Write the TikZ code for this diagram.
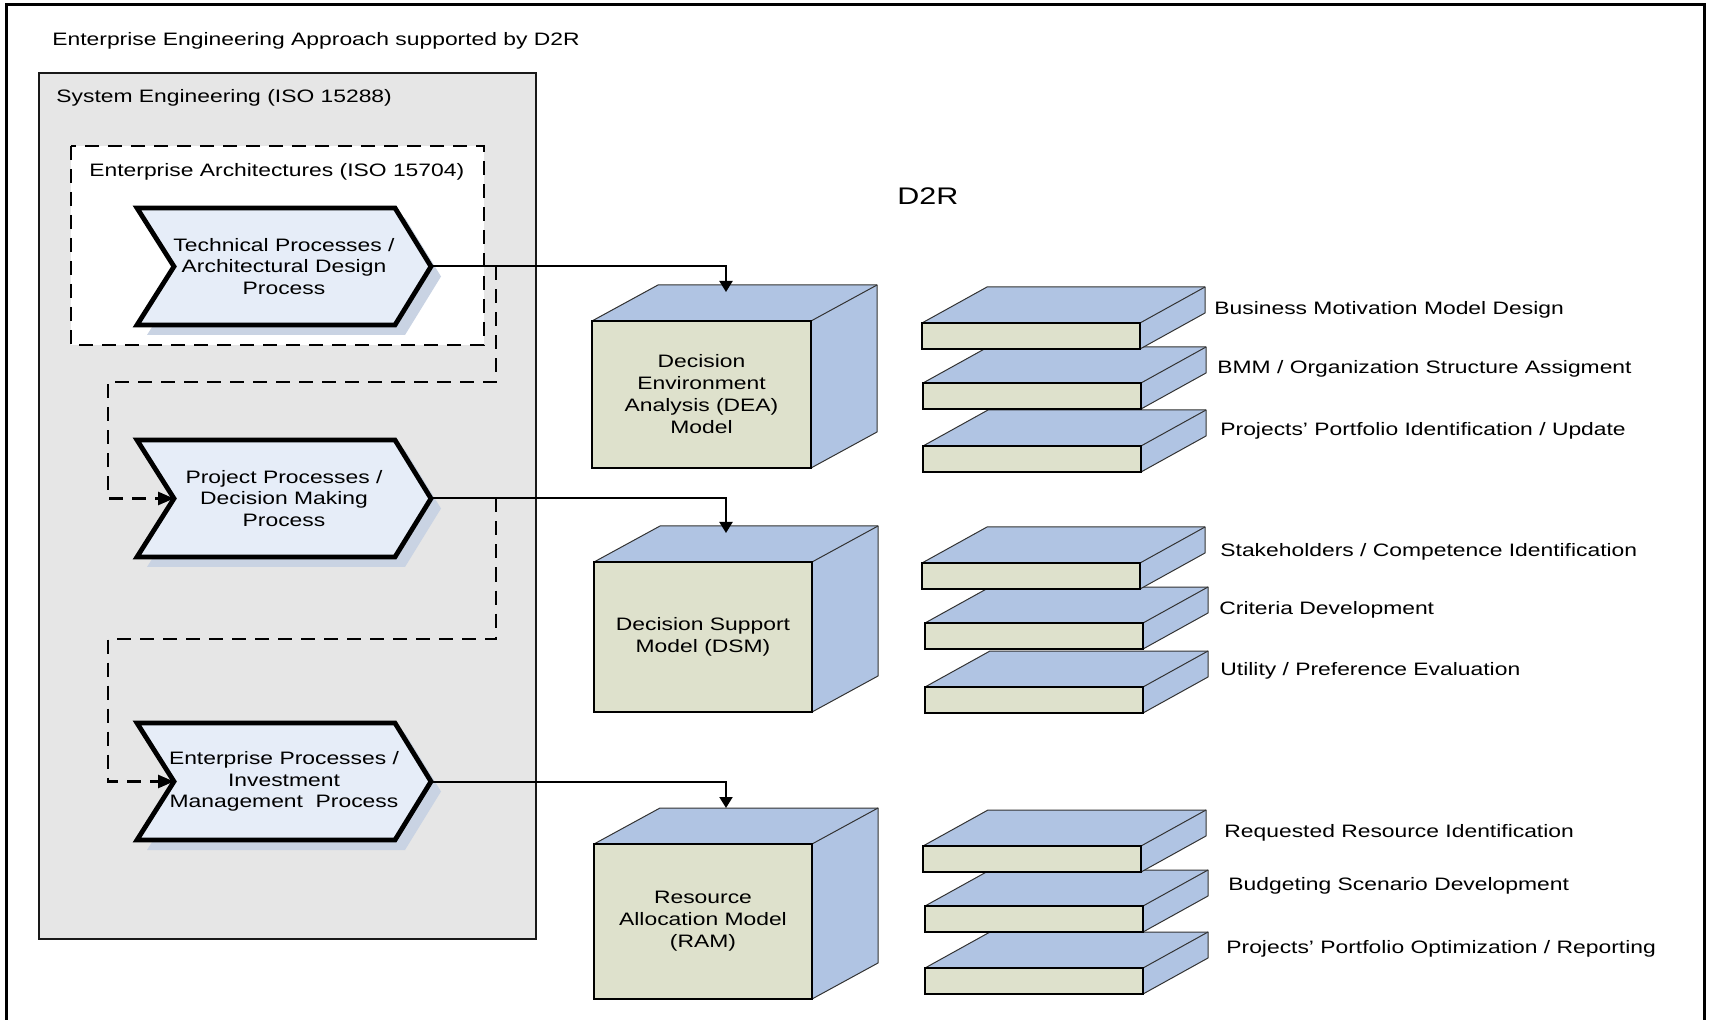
\documentclass[tikz,border=0pt]{standalone}
\usepackage{fontspec}
\setmainfont{Liberation Sans}[FakeStretch=1.27]
\usetikzlibrary{arrows.meta}
\definecolor{boxgray}{HTML}{E6E6E6}
\definecolor{chevfill}{HTML}{E6EDF8}
\definecolor{chevshadow}{HTML}{C9D3E3}
\definecolor{frontc}{HTML}{DEE1CC}
\definecolor{facec}{HTML}{B0C4E3}
\tikzset{
  lbl/.style={font=\fontsize{9}{10.75}\selectfont, inner sep=0pt, anchor=base west},
  chevron/.style={draw=black, fill=chevfill, line width=2.4pt, line join=miter},
  chevtext/.style={font=\fontsize{9}{10.75}\selectfont, align=center, inner sep=0pt},
  graybox/.style={draw=black!90, fill=boxgray, line width=1.25pt},
  dashbox/.style={draw=black, fill=white, line width=1.3pt, dash pattern=on 7pt off 4.5pt},
  conn/.style={draw=black, line width=1pt, -{Triangle[length=5.5pt,width=6.5pt]}},
  dconn/.style={draw=black, line width=1.3pt, dash pattern=on 7pt off 4.5pt, -{Triangle[length=8pt,width=6.5pt]}},
  face/.style={fill=facec, draw=black!80, line width=0.5pt, line join=round},
  faceedge/.style={draw=black!80, line width=0.5pt},
  cubefront/.style={draw=black, fill=frontc, line width=1.3pt, inner sep=0pt, outer sep=0pt, align=center, font=\fontsize{9}{11}\selectfont},
  slabfront/.style={draw=black, fill=frontc, line width=1.2pt, inner sep=0pt, outer sep=0pt},
  chev/.pic={
    \fill[chevshadow] (10,10) -- (268,10) -- (304,68.5) -- (268,127) -- (10,127) -- (47,68.5) -- cycle;
    \draw[chevron] (0,0) -- (258,0) -- (294,58.5) -- (258,117) -- (0,117) -- (37,58.5) -- cycle;
    \coordinate (-tip) at (294,58.5);
    \coordinate (-notch) at (37,58.5);
    \node[chevtext] (-text) at (147,58.5) {#1};
  }
}
\newcommand\dcube[6]{%
  \filldraw[face] (#2,#3) -- ++(66,-36) -- ++(#4,0) -- ++(0,#5) -- ++(-66,36) -- ++(0,-#5) -- cycle;
  \draw[faceedge] (#2+#4,#3) -- ++(66,-36);
  \node[cubefront, minimum width=#4*0.5pt, minimum height=#5*0.5pt] (#1) at (#2+#4/2,#3+#5/2) {#6};
}
\newcommand\dslab[3]{%
  \filldraw[face] (#2,#3) -- ++(65,-36) -- ++(218,0) -- ++(0,26) -- ++(-65,36) -- ++(0,-26) -- cycle;
  \draw[faceedge] (#2+218,#3) -- ++(65,-36);
  \node[slabfront, minimum width=109pt, minimum height=13pt] (#1) at (#2+109,#3+13) {};
}
\begin{document}
\begin{tikzpicture}[x=0.5pt,y=-0.5pt]
\path[use as bounding box] (0,0) rectangle (1711,1020);
\clip (0,0) rectangle (1711,1020);
\draw[line width=1.5pt] (6,5) rectangle (1704,1045);
\node[lbl] (title) at (52,46) {Enterprise Engineering Approach supported by D2R};
\draw[graybox] (39,73) rectangle (536,939);
\node[lbl] (setitle) at (56,103) {System Engineering (ISO 15288)};
\draw[dashbox] (71,146) rectangle (484,345);
\node[lbl] (eatitle) at (89,177) {Enterprise Architectures (ISO 15704)};

\pic (c1) at (137,208) {chev={Technical Processes /\\Architectural Design\\Process}};
\pic (c2) at (137,440) {chev={Project Processes /\\Decision Making\\Process}};
\pic (c3) at (137,723) {chev={Enterprise Processes /\\Investment\\Management\ \ Process}};

\node[font=\fontsize{12}{14}\selectfont, inner sep=0pt, anchor=base west] (d2r) at (897,204.6) {D2R};

% cubes
\dcube{dea}{592}{321}{219}{147}{Decision\\Environment\\Analysis (DEA)\\Model}
\dcube{dsm}{594}{562}{218}{150}{Decision Support\\Model (DSM)}
\dcube{ram}{594}{844}{218}{155}{Resource\\Allocation Model\\(RAM)}

% slabs group 1
\dslab{s13}{923}{446}
\dslab{s12}{923}{383}
\dslab{s11}{922}{323}
% slabs group 2
\dslab{s23}{925}{687}
\dslab{s22}{925}{623}
\dslab{s21}{922}{563}
% slabs group 3
\dslab{s33}{925}{968}
\dslab{s32}{925}{906}
\dslab{s31}{923}{846}

% labels
\node[lbl] (l11) at (1214,314.5) {Business Motivation Model Design};
\node[lbl] (l12) at (1217,373.5) {BMM / Organization Structure Assigment};
\node[lbl] (l13) at (1220,435.5) {Projects’ Portfolio Identification / Update};
\node[lbl] (l21) at (1220,556.5) {Stakeholders / Competence Identification};
\node[lbl] (l22) at (1219,614.5) {Criteria Development};
\node[lbl] (l23) at (1220,675.5) {Utility / Preference Evaluation};
\node[lbl] (l31) at (1224,837) {Requested Resource Identification};
\node[lbl] (l32) at (1228,890) {Budgeting Scenario Development};
\node[lbl] (l33) at (1226,953) {Projects’ Portfolio Optimization / Reporting};

% connectors
\coordinate (j1) at (496,266.5);
\coordinate (j2) at (496,498.5);
\draw[dconn] (j1) -- (496,382) -- (108,382) |- (c2-notch);
\draw[dconn] (j2) -- (496,639) -- (108,639) |- (c3-notch);

\coordinate (dea-in) at (726,292);
\coordinate (dsm-in) at (726,533);
\coordinate (ram-in) at (726,808);
\draw[conn] (c1-tip) -| (dea-in);
\draw[conn] (c2-tip) -| (dsm-in);
\draw[conn] (c3-tip) -| (ram-in);
\end{tikzpicture}
\end{document}
